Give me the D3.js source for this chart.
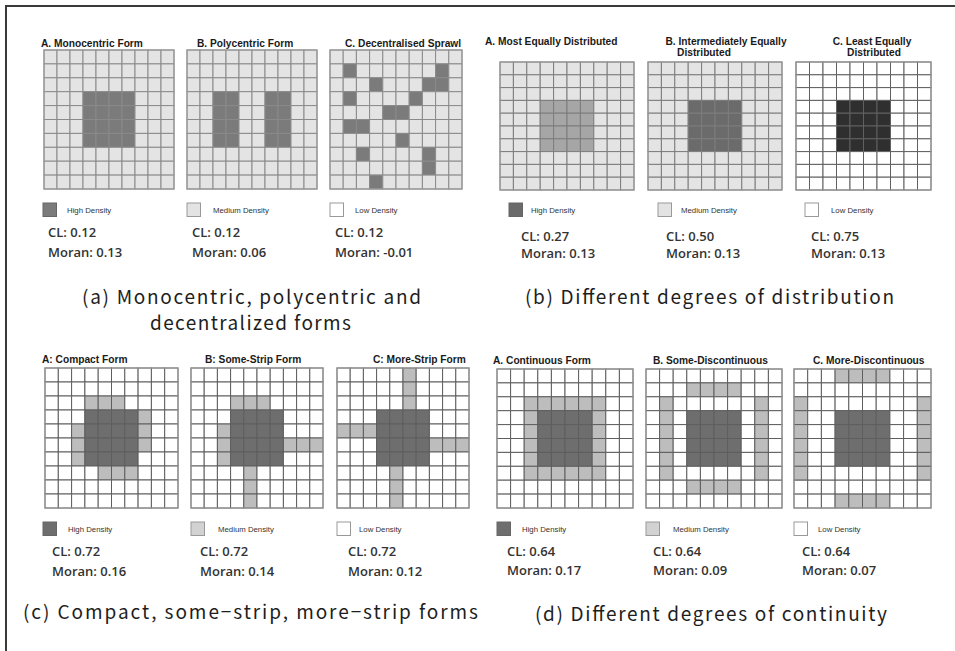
<!DOCTYPE html>
<html><head><meta charset="utf-8">
<script src="https://cdn.jsdelivr.net/npm/d3@7"></script>
<style>html,body{margin:0;padding:0;background:#fff;}svg{display:block;}</style>
</head><body>
<svg id="chart" width="955" height="651"></svg>
<script>
// ---------- DATA ----------
// cell levels: 0 = low, 1 = medium, 2 = high
const gridMonocentric = ["1111111111","1111111111","1111111111","1112222111","1112222111","1112222111","1112222111","1111111111","1111111111","1111111111"];
const gridPolycentric = ["1111111111","1111111111","1111111111","1122112211","1122112211","1122112211","1122112211","1111111111","1111111111","1111111111"];
const gridSprawl      = ["1111111111","1211111121","1112111221","1211112111","1111221111","1221111111","1111121111","1121111211","1111111211","1112111111"];
const gridMostEqual   = ["1111111111","1111111111","1111111111","1112222111","1112222111","1112222111","1112222111","1111111111","1111111111","1111111111"];
const gridInterEqual  = ["1111111111","1111111111","1111111111","1112222111","1112222111","1112222111","1112222111","1111111111","1111111111","1111111111"];
const gridLeastEqual  = ["0000000000","0000000000","0000000000","0002222000","0002222000","0002222000","0002222000","0000000000","0000000000","0000000000"];
const gridCompact     = ["0000000000","0000000000","0001110000","0002222100","0012222100","0012222100","0012222000","0000111000","0000000000","0000000000"];
const gridSomeStrip   = ["0000000000","0000000000","0001110000","0002222000","0012222000","0012222111","0012222000","0000100000","0000100000","0000100000"];
const gridMoreStrip   = ["0000010000","0000010000","0000010000","0002222000","1112222000","0002222111","0002222000","0000100000","0000100000","0000100000"];
const gridContinuous  = ["0000000000","0000000000","0011111100","0012222100","0012222100","0012222100","0012222100","0011111100","0000000000","0000000000"];
const gridSomeDisc    = ["0000000000","0001111000","0100000010","0102222010","0102222010","0102222010","0102222010","0100000010","0001111000","0000000000"];
const gridMoreDisc    = ["0001111000","0000000000","1000000001","1002222001","1002222001","1002222001","1002222001","1000000001","0000000000","0001111000"];

const panelTitles = [["A. Monocentric Form"],["B. Polycentric Form"],["C. Decentralised Sprawl"],
  ["A. Most Equally Distributed"],["B. Intermediately Equally","Distributed"],["C. Least Equally","Distributed"],
  ["A: Compact Form"],["B: Some-Strip Form"],["C: More-Strip Form"],
  ["A. Continuous Form"],["B. Some-Discontinuous"],["C. More-Discontinuous"]];
const clValues    = ["0.12","0.12","0.12","0.27","0.50","0.75","0.72","0.72","0.72","0.64","0.64","0.64"];
const moranValues = ["0.13","0.06","-0.01","0.13","0.13","0.13","0.16","0.14","0.12","0.17","0.09","0.07"];
const legendLabels = ["High Density","Medium Density","Low Density"];
const captions = [["(a) Monocentric, polycentric and","decentralized forms"],["(b) Different degrees of distribution"],
  ["(c) Compact, some\u2212strip, more\u2212strip forms"],["(d) Different degrees of continuity"]];

const grids = [gridMonocentric,gridPolycentric,gridSprawl,gridMostEqual,gridInterEqual,gridLeastEqual,
  gridCompact,gridSomeStrip,gridMoreStrip,gridContinuous,gridSomeDisc,gridMoreDisc];

// ---------- STYLE / LAYOUT ----------
const palettes = [
  {0:"#ffffff",1:"#e4e4e4",2:"#7b7b7b"},{0:"#ffffff",1:"#e4e4e4",2:"#7b7b7b"},{0:"#ffffff",1:"#e4e4e4",2:"#7b7b7b"},
  {0:"#ffffff",1:"#e4e4e4",2:"#a6a6a6"},{0:"#ffffff",1:"#e4e4e4",2:"#6b6b6b"},{0:"#ffffff",1:"#e4e4e4",2:"#2f2f2f"},
  {0:"#ffffff",1:"#bdbdbd",2:"#6e6e6e"},{0:"#ffffff",1:"#bdbdbd",2:"#6e6e6e"},{0:"#ffffff",1:"#bdbdbd",2:"#6e6e6e"},
  {0:"#ffffff",1:"#bdbdbd",2:"#6e6e6e"},{0:"#ffffff",1:"#bdbdbd",2:"#6e6e6e"},{0:"#ffffff",1:"#bdbdbd",2:"#6e6e6e"}];
const lineColors = ["#8a8a8a","#8a8a8a","#8a8a8a","#7d7d7d","#7d7d7d","#606060","#5e5e5e","#5e5e5e","#5e5e5e","#5e5e5e","#5e5e5e","#5e5e5e"];
const boxes = [ // x0,x1,y0,y1
  [44,174,50,189],[187,317,50,189],[330,462,50,189],
  [500,634,62,190],[648,782,62,190],[796,931,62,190],
  [45,178,368,508],[191,323,368,508],[337,469,368,508],
  [497,633,369,508],[646,782,369,508],[794,931,369,508]];
const titlePos = [ // x, y(center), anchor
  [41,43,"start"],[197,43,"start"],[345,43,"start"],
  [485,41,"start"],[726,41,"middle"],[872,41,"middle"],
  [42,359,"start"],[205,359,"start"],[373,359,"start"],
  [493,360,"start"],[653,360,"start"],[813,360,"start"]];
const line2X = [null,null,null,null,704,874];
const legendRows = [ // y top of swatch, swatch xs, label xs, palette index
  {y:203, sx:[43,187,330], lx:[67,213,355], p:0},
  {y:203, sx:[509,658,805], lx:[531,681,831], p:4},
  {y:522, sx:[43,191,337], lx:[68,218,359], p:6},
  {y:522, sx:[497,646,794], lx:[522,673,818], p:9}];
const statPos = [ // x per panel, y CL, y Moran
  {x:[48,192,335], y1:232, y2:252},
  {x:[521,666,811], y1:236, y2:253},
  {x:[52,200,348], y1:551, y2:571},
  {x:[507,653,802], y1:551, y2:570}];
const captionPos = [
  [[82,297,339],[150,323,201]],
  [[525,297,369]],
  [[23,612,455]],
  [[535,614,352]]];

const svg = d3.select("#chart");

// frame (left/top visible)
svg.append("rect").attr("x",6).attr("y",6).attr("width",980).attr("height",680)
  .attr("fill","none").attr("stroke","#3a3a3a").attr("stroke-width",2);

const idx = d3.range(10);
grids.forEach((g, i) => {
  const [x0,x1,y0,y1] = boxes[i];
  const xs = d3.scaleBand().domain(idx).range([x0,x1]);
  const ys = d3.scaleBand().domain(idx).range([y0,y1]);
  const cells = [];
  g.forEach((row, r) => row.split("").forEach((c, k) => cells.push({r, k, v:+c})));
  const gp = svg.append("g");
  gp.selectAll("rect").data(cells).join("rect")
    .attr("x", d => xs(d.k)).attr("y", d => ys(d.r))
    .attr("width", xs.bandwidth()).attr("height", ys.bandwidth())
    .attr("fill", d => palettes[i][d.v])
    .attr("stroke", lineColors[i]).attr("stroke-width", 1);
  gp.append("rect").attr("x",x0).attr("y",y0).attr("width",x1-x0).attr("height",y1-y0)
    .attr("fill","none").attr("stroke","#9a9a9a").attr("stroke-width",1.2);

  const [tx,ty,anc] = titlePos[i];
  const t = panelTitles[i];
  svg.append("text").attr("x",tx).attr("y",ty+3.6).attr("text-anchor",anc)
    .attr("font-family","Liberation Sans, Arial, sans-serif").attr("font-weight","bold")
    .attr("font-size",10.2).attr("fill","#1a1a1a").text(t[0]);
  if (t.length > 1) {
    svg.append("text").attr("x",line2X[i]).attr("y",ty+11.5+3.6).attr("text-anchor","middle")
      .attr("font-family","Liberation Sans, Arial, sans-serif").attr("font-weight","bold")
      .attr("font-size",10.2).attr("fill","#1a1a1a").text(t[1]);
  }
});

// legends
legendRows.forEach(lr => {
  const pal = palettes[lr.p];
  const fills = [lr.p === 4 ? "#6b6b6b" : pal[2], lr.p === 6 || lr.p === 9 ? "#d2d2d2" : "#e3e3e3", "#ffffff"];
  legendLabels.forEach((lab, j) => {
    svg.append("rect").attr("x",lr.sx[j]).attr("y",lr.y).attr("width",13.5).attr("height",13.5)
      .attr("fill",fills[j]).attr("stroke", j===0 ? "#666" : "#999").attr("stroke-width",1);
    svg.append("text").attr("x",lr.lx[j]).attr("y",lr.y+7+2.8)
      .attr("font-family","Liberation Sans, Arial, sans-serif").attr("font-size",7.8)
      .attr("fill","#333").text(lab);
  });
});

// stats
statPos.forEach((sp, r) => {
  sp.x.forEach((x, j) => {
    const i = r*3 + j;
    svg.append("text").attr("x",x).attr("y",sp.y1+4.7)
      .attr("font-family","Open Sans, sans-serif").attr("font-size",13).attr("font-weight",600)
      .attr("fill","#333").text("CL: " + clValues[i]);
    svg.append("text").attr("x",x).attr("y",sp.y2+4.7)
      .attr("font-family","Open Sans, sans-serif").attr("font-size",13).attr("font-weight",600)
      .attr("fill","#333").text("Moran: " + moranValues[i]);
  });
});

// captions
captions.forEach((lines, c) => {
  lines.forEach((ln, k) => {
    const [x, y, w] = captionPos[c][k];
    svg.append("text").attr("x",x).attr("y",y+6.8)
      .attr("font-family","Noto Sans CJK KR, sans-serif").attr("font-size",19).attr("font-weight",400)
      .attr("fill","#1e1e1e").attr("textLength",w).attr("lengthAdjust","spacing").text(ln);
  });
});
</script>
</body></html>
